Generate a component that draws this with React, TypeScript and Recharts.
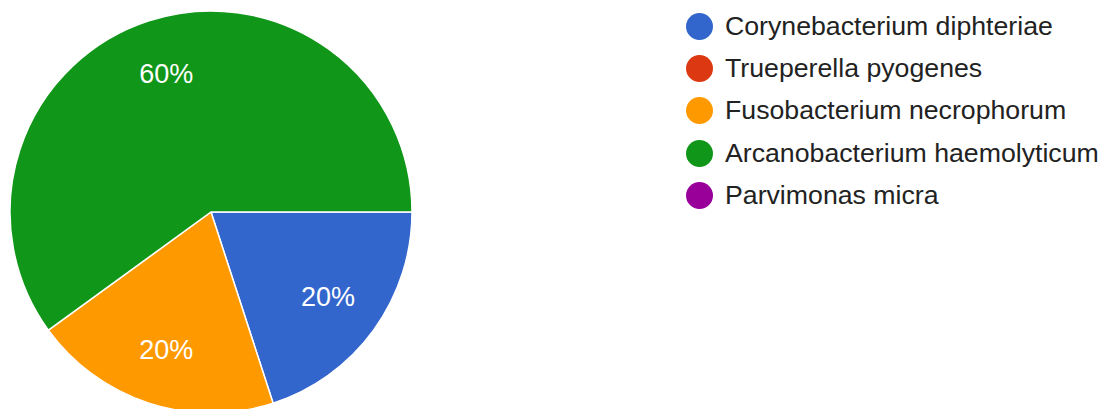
import { PieChart, Pie, Cell, Legend } from "recharts";

const categories = [
  "Corynebacterium diphteriae",
  "Trueperella pyogenes",
  "Fusobacterium necrophorum",
  "Arcanobacterium haemolyticum",
  "Parvimonas micra",
];
const values = [1, 0, 1, 3, 0];
const colors = ["#3366cc", "#dc3912", "#ff9900", "#109618", "#990099"];

const FONT = "'Liberation Sans', Arial, sans-serif";

const total = values.reduce((s, v) => s + v, 0);
const allRows = categories.map((name, i) => ({ name, value: values[i], color: colors[i] }));
const pieData = allRows.filter((d) => d.value > 0);

const RADIAN = Math.PI / 180;

const renderLabel = (props: any) => {
  const { cx, cy, midAngle, outerRadius, value } = props;
  const r = outerRadius * 0.72;
  const x = cx + r * Math.cos(-midAngle * RADIAN);
  const y = cy + r * Math.sin(-midAngle * RADIAN);
  return (
    <text
      x={x}
      y={y}
      fill="#fff"
      textAnchor="middle"
      dominantBaseline="central"
      fontSize={27}
      fontFamily={FONT}
    >
      {`${Math.round((value / total) * 100)}%`}
    </text>
  );
};

const renderLegend = () => (
  <div style={{ fontFamily: FONT }}>
    {allRows.map((row) => (
      <div
        key={row.name}
        style={{ display: "flex", alignItems: "center", height: 42.4 }}
      >
        <span
          style={{
            width: 27,
            height: 27,
            borderRadius: "50%",
            background: row.color,
            display: "inline-block",
            marginRight: 12,
          }}
        />
        <span style={{ fontSize: 26.7, color: "#222", whiteSpace: "nowrap" }}>{row.name}</span>
      </div>
    ))}
  </div>
);

export default function App() {
  return (
    <div style={{ width: 1100, height: 401 }}>
      <PieChart width={1100} height={401} margin={{ top: 0, right: 0, bottom: 0, left: 0 }}>
        <Pie
          data={pieData}
          dataKey="value"
          nameKey="name"
          cx={203}
          cy={204}
          outerRadius={201}
          startAngle={0}
          endAngle={-360}
          stroke="#fff"
          strokeWidth={1.5}
          labelLine={false}
          label={renderLabel}
          isAnimationActive={false}
        >
          {pieData.map((d) => (
            <Cell key={d.name} fill={d.color} />
          ))}
        </Pie>
        <Legend
          content={renderLegend}
          layout="vertical"
          wrapperStyle={{ left: 678, top: -3, width: 420 }}
        />
      </PieChart>
    </div>
  );
}
